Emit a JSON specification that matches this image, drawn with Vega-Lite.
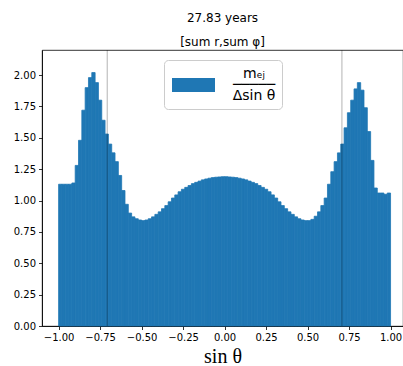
{
  "$schema": "https://vega.github.io/schema/vega-lite/v6.json",
  "autosize": {"type": "none"},
  "padding": {"left": 42, "top": 50, "right": 0, "bottom": 40},
  "width": 361,
  "height": 276,
  "background": "white",
  "title": {
    "text": "27.83 years",
    "subtitle": "[sum r,sum φ]",
    "anchor": "middle",
    "font": "DejaVu Sans",
    "fontSize": 12,
    "fontWeight": "normal",
    "color": "black",
    "subtitleFont": "DejaVu Sans",
    "subtitleFontSize": 12,
    "subtitleColor": "black",
    "subtitlePadding": 12,
    "offset": 1
  },
  "config": {
    "view": {"stroke": "black", "strokeWidth": 0.8},
    "style": {"guide-label": {"lineHeight": 11}},
    "axis": {
      "domainColor": "black",
      "domainWidth": 0.8,
      "tickColor": "black",
      "tickWidth": 0.8,
      "tickSize": 3.5,
      "labelColor": "black",
      "labelFont": "DejaVu Sans",
      "labelFontSize": 10,
      "labelPadding": 3,
      "grid": false,
      "titleColor": "black"
    }
  },
  "layer": [
    {
      "data": {
        "values": [
          {"sin_lo": -1.00, "sin_hi": -0.98, "m": 1.13},
          {"sin_lo": -0.98, "sin_hi": -0.96, "m": 1.13},
          {"sin_lo": -0.96, "sin_hi": -0.94, "m": 1.13},
          {"sin_lo": -0.94, "sin_hi": -0.92, "m": 1.13},
          {"sin_lo": -0.92, "sin_hi": -0.90, "m": 1.14},
          {"sin_lo": -0.90, "sin_hi": -0.88, "m": 1.28},
          {"sin_lo": -0.88, "sin_hi": -0.86, "m": 1.48},
          {"sin_lo": -0.86, "sin_hi": -0.84, "m": 1.72},
          {"sin_lo": -0.84, "sin_hi": -0.82, "m": 1.90},
          {"sin_lo": -0.82, "sin_hi": -0.80, "m": 1.98},
          {"sin_lo": -0.80, "sin_hi": -0.78, "m": 2.02},
          {"sin_lo": -0.78, "sin_hi": -0.76, "m": 1.94},
          {"sin_lo": -0.76, "sin_hi": -0.74, "m": 1.80},
          {"sin_lo": -0.74, "sin_hi": -0.72, "m": 1.64},
          {"sin_lo": -0.72, "sin_hi": -0.70, "m": 1.53},
          {"sin_lo": -0.70, "sin_hi": -0.68, "m": 1.45},
          {"sin_lo": -0.68, "sin_hi": -0.66, "m": 1.38},
          {"sin_lo": -0.66, "sin_hi": -0.64, "m": 1.31},
          {"sin_lo": -0.64, "sin_hi": -0.62, "m": 1.20},
          {"sin_lo": -0.62, "sin_hi": -0.60, "m": 1.08},
          {"sin_lo": -0.60, "sin_hi": -0.58, "m": 0.97},
          {"sin_lo": -0.58, "sin_hi": -0.56, "m": 0.90},
          {"sin_lo": -0.56, "sin_hi": -0.54, "m": 0.87},
          {"sin_lo": -0.54, "sin_hi": -0.52, "m": 0.855},
          {"sin_lo": -0.52, "sin_hi": -0.50, "m": 0.845},
          {"sin_lo": -0.50, "sin_hi": -0.48, "m": 0.84},
          {"sin_lo": -0.48, "sin_hi": -0.46, "m": 0.845},
          {"sin_lo": -0.46, "sin_hi": -0.44, "m": 0.855},
          {"sin_lo": -0.44, "sin_hi": -0.42, "m": 0.87},
          {"sin_lo": -0.42, "sin_hi": -0.40, "m": 0.89},
          {"sin_lo": -0.40, "sin_hi": -0.38, "m": 0.91},
          {"sin_lo": -0.38, "sin_hi": -0.36, "m": 0.935},
          {"sin_lo": -0.36, "sin_hi": -0.34, "m": 0.96},
          {"sin_lo": -0.34, "sin_hi": -0.32, "m": 0.99},
          {"sin_lo": -0.32, "sin_hi": -0.30, "m": 1.02},
          {"sin_lo": -0.30, "sin_hi": -0.28, "m": 1.045},
          {"sin_lo": -0.28, "sin_hi": -0.26, "m": 1.07},
          {"sin_lo": -0.26, "sin_hi": -0.24, "m": 1.09},
          {"sin_lo": -0.24, "sin_hi": -0.22, "m": 1.105},
          {"sin_lo": -0.22, "sin_hi": -0.20, "m": 1.12},
          {"sin_lo": -0.20, "sin_hi": -0.18, "m": 1.135},
          {"sin_lo": -0.18, "sin_hi": -0.16, "m": 1.145},
          {"sin_lo": -0.16, "sin_hi": -0.14, "m": 1.155},
          {"sin_lo": -0.14, "sin_hi": -0.12, "m": 1.165},
          {"sin_lo": -0.12, "sin_hi": -0.10, "m": 1.172},
          {"sin_lo": -0.10, "sin_hi": -0.08, "m": 1.178},
          {"sin_lo": -0.08, "sin_hi": -0.06, "m": 1.183},
          {"sin_lo": -0.06, "sin_hi": -0.04, "m": 1.186},
          {"sin_lo": -0.04, "sin_hi": -0.02, "m": 1.188},
          {"sin_lo": -0.02, "sin_hi": 0.00, "m": 1.19},
          {"sin_lo": 0.00, "sin_hi": 0.02, "m": 1.19},
          {"sin_lo": 0.02, "sin_hi": 0.04, "m": 1.188},
          {"sin_lo": 0.04, "sin_hi": 0.06, "m": 1.186},
          {"sin_lo": 0.06, "sin_hi": 0.08, "m": 1.183},
          {"sin_lo": 0.08, "sin_hi": 0.10, "m": 1.178},
          {"sin_lo": 0.10, "sin_hi": 0.12, "m": 1.172},
          {"sin_lo": 0.12, "sin_hi": 0.14, "m": 1.165},
          {"sin_lo": 0.14, "sin_hi": 0.16, "m": 1.155},
          {"sin_lo": 0.16, "sin_hi": 0.18, "m": 1.145},
          {"sin_lo": 0.18, "sin_hi": 0.20, "m": 1.135},
          {"sin_lo": 0.20, "sin_hi": 0.22, "m": 1.12},
          {"sin_lo": 0.22, "sin_hi": 0.24, "m": 1.105},
          {"sin_lo": 0.24, "sin_hi": 0.26, "m": 1.09},
          {"sin_lo": 0.26, "sin_hi": 0.28, "m": 1.07},
          {"sin_lo": 0.28, "sin_hi": 0.30, "m": 1.045},
          {"sin_lo": 0.30, "sin_hi": 0.32, "m": 1.02},
          {"sin_lo": 0.32, "sin_hi": 0.34, "m": 0.99},
          {"sin_lo": 0.34, "sin_hi": 0.36, "m": 0.96},
          {"sin_lo": 0.36, "sin_hi": 0.38, "m": 0.935},
          {"sin_lo": 0.38, "sin_hi": 0.40, "m": 0.91},
          {"sin_lo": 0.40, "sin_hi": 0.42, "m": 0.89},
          {"sin_lo": 0.42, "sin_hi": 0.44, "m": 0.87},
          {"sin_lo": 0.44, "sin_hi": 0.46, "m": 0.855},
          {"sin_lo": 0.46, "sin_hi": 0.48, "m": 0.845},
          {"sin_lo": 0.48, "sin_hi": 0.50, "m": 0.84},
          {"sin_lo": 0.50, "sin_hi": 0.52, "m": 0.84},
          {"sin_lo": 0.52, "sin_hi": 0.54, "m": 0.85},
          {"sin_lo": 0.54, "sin_hi": 0.56, "m": 0.875},
          {"sin_lo": 0.56, "sin_hi": 0.58, "m": 0.91},
          {"sin_lo": 0.58, "sin_hi": 0.60, "m": 0.96},
          {"sin_lo": 0.60, "sin_hi": 0.62, "m": 1.02},
          {"sin_lo": 0.62, "sin_hi": 0.64, "m": 1.13},
          {"sin_lo": 0.64, "sin_hi": 0.66, "m": 1.23},
          {"sin_lo": 0.66, "sin_hi": 0.68, "m": 1.31},
          {"sin_lo": 0.68, "sin_hi": 0.70, "m": 1.38},
          {"sin_lo": 0.70, "sin_hi": 0.72, "m": 1.45},
          {"sin_lo": 0.72, "sin_hi": 0.74, "m": 1.58},
          {"sin_lo": 0.74, "sin_hi": 0.76, "m": 1.70},
          {"sin_lo": 0.76, "sin_hi": 0.78, "m": 1.80},
          {"sin_lo": 0.78, "sin_hi": 0.80, "m": 1.89},
          {"sin_lo": 0.80, "sin_hi": 0.82, "m": 1.94},
          {"sin_lo": 0.82, "sin_hi": 0.84, "m": 1.88},
          {"sin_lo": 0.84, "sin_hi": 0.86, "m": 1.74},
          {"sin_lo": 0.86, "sin_hi": 0.88, "m": 1.55},
          {"sin_lo": 0.88, "sin_hi": 0.90, "m": 1.32},
          {"sin_lo": 0.90, "sin_hi": 0.92, "m": 1.10},
          {"sin_lo": 0.92, "sin_hi": 0.94, "m": 1.06},
          {"sin_lo": 0.94, "sin_hi": 0.96, "m": 1.06},
          {"sin_lo": 0.96, "sin_hi": 0.98, "m": 1.05},
          {"sin_lo": 0.98, "sin_hi": 1.00, "m": 1.06}
        ]
      },
      "mark": {"type": "bar", "stroke": "#1f77b4", "strokeWidth": 0.8},
      "encoding": {
        "x": {
          "field": "sin_lo",
          "type": "quantitative",
          "scale": {"domain": [-1.1, 1.075], "nice": false, "zero": false},
          "axis": {
            "values": [-1, -0.75, -0.5, -0.25, 0, 0.25, 0.5, 0.75, 1],
            "format": ".2f",
            "labelExpr": "replace(datum.label, '-', '−')",
            "title": "sin θ",
            "titleFont": "Liberation Serif",
            "titleFontSize": 20,
            "titleFontWeight": "normal",
            "titlePadding": 4
          }
        },
        "x2": {"field": "sin_hi"},
        "y": {
          "field": "m",
          "type": "quantitative",
          "scale": {"domain": [0, 2.2], "nice": false},
          "axis": {
            "values": [0, 0.25, 0.5, 0.75, 1, 1.25, 1.5, 1.75, 2],
            "format": ".2f",
            "title": null
          }
        },
        "y2": {"datum": 0},
        "color": {
          "datum": "mej",
          "scale": {"range": ["#1f77b4"]},
          "legend": {
            "orient": "none",
            "legendX": 122,
            "legendY": 10,
            "title": null,
            "symbolType": "M-0.75,0.5H4.625V2.25H-0.75Z",
            "symbolSize": 256,
            "symbolStrokeWidth": 0,
            "symbolOpacity": 1,
            "labelExpr": "['mₑⱼ', '─────', 'Δsin θ']",
            "labelFont": "DejaVu Sans",
            "labelFontSize": 14,
            "labelColor": "black",
            "labelAlign": "center",
            "labelOffset": 68,
            "labelLimit": 200,
            "padding": 6,
            "strokeColor": "#cccccc",
            "fillColor": "white",
            "cornerRadius": 4
          }
        }
      }
    },
    {
      "data": {"values": [{"sin": -0.7071}, {"sin": 0.7071}]},
      "mark": {"type": "rule", "color": "black", "opacity": 0.3, "strokeWidth": 1},
      "encoding": {
        "x": {"field": "sin", "type": "quantitative"}
      }
    }
  ]
}
